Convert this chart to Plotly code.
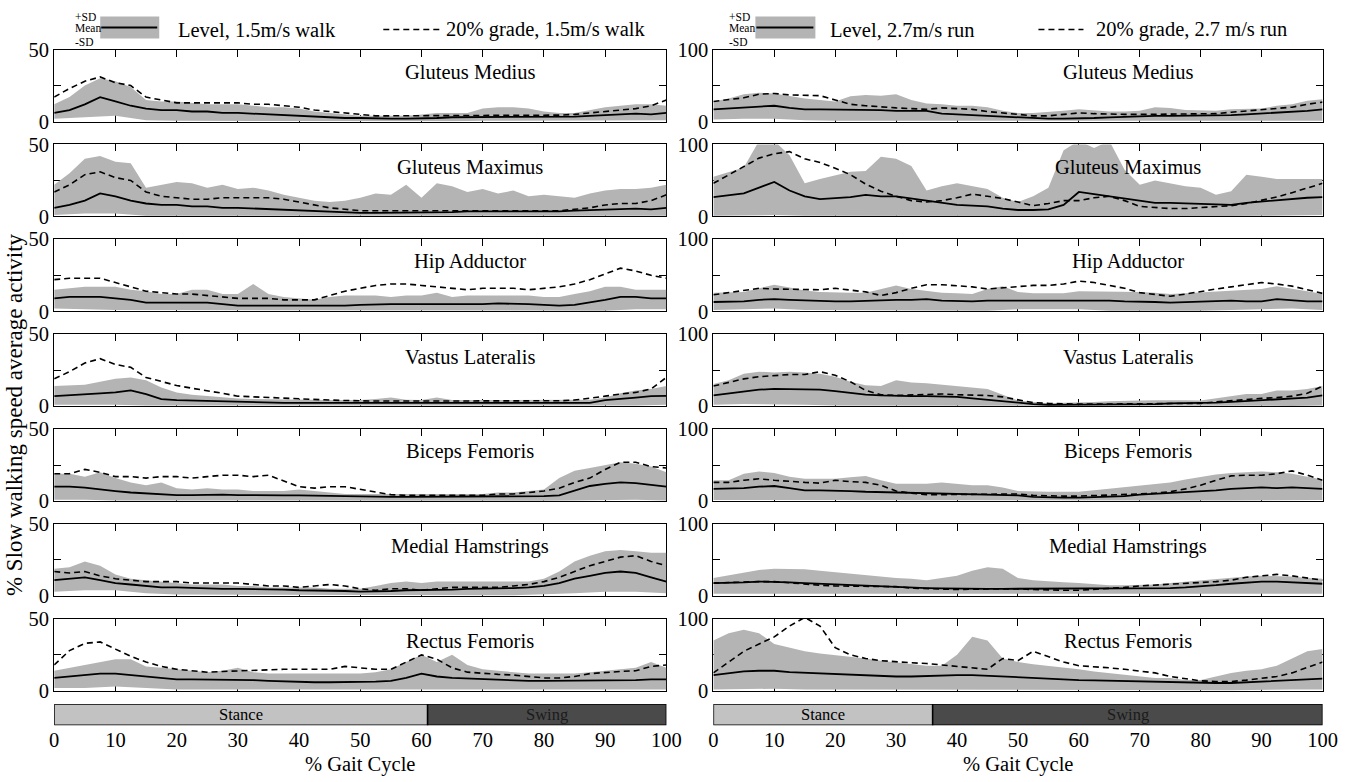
import numpy as np
import plotly.graph_objects as go

# ---------------- data ----------------
X = np.arange(0, 100.01, 2.5).tolist()      # % gait cycle (41 samples)
XL = np.arange(0, 100.01, 5).tolist()       # grid for lower SD bound (21 samples)
PCT_TICKS = [0, 10, 20, 30, 40, 50, 60, 70, 80, 90, 100]

MUSCLES = ["Gluteus Medius", "Gluteus Maximus", "Hip Adductor", "Vastus Lateralis",
           "Biceps Femoris", "Medial Hamstrings", "Rectus Femoris"]

WALK_LEGEND = ["Level, 1.5m/s walk", "20% grade, 1.5m/s walk"]
RUN_LEGEND = ["Level, 2.7m/s run", "20% grade, 2.7 m/s run"]
PHASES = ["Stance", "Swing"]
WALK_STANCE_END = 61
RUN_STANCE_END = 36
WALK_YMAX = 50
RUN_YMAX = 100

# ---- walk (left column) ----
walk_gmed_mean = [6,8,12,17,14,11,9,8,8,7, 7,6,6,5.5,5,4.5,4,3,3,2.5, 2.5,2,2,2,2,2.5,3,3,3.5,3.5, 3,3,3,3,3.5,4,4.5,5,5.5,5, 6]
walk_gmed_grade = [17,23,28,31,27,25,17,15,13,13, 13,13,13,12,12,11,10,8,7,6, 5,4,4,4,4,4,4,4.5,4.5,4.5, 4,4,4,4.5,5,6,7,8,9,11, 15]
walk_gmed_upper = [12,17,25,30,28,24,15,14,14,13, 12,12,12,11,10,10,9,7,6,5, 4,4,4,4,5,6,6,6,9,10, 10,9,7,6,6,8,10,11,12,12, 11]
walk_gmed_lower = [2,3,4,1,0.5,0.5,0.5,0.3,0.3,0.3, 0.3,0.3,0.3,0.3,0.5,0.5,0.5,0.5,1,1, 1]

walk_gmax_mean = [6,8,11,16,14,11,9,8,8,7, 7,6,6,5.5,5,5,4.5,3.5,3,3, 2.5,2.5,2.5,2.5,2.5,3,3,3.5,3.5,3.5, 3,3,3,3.5,4,4.5,5,5,5.5,5, 6]
walk_gmax_grade = [17,22,29,31,27,25,17,14,13,12, 12,13,13,13,13,12,10,8,6,5, 4,4,4,4,4,4,3.5,3.5,4,4, 4,3.5,3.5,4,5,6,8,9,9,11, 15]
walk_gmax_upper = [22,30,40,42,38,37,20,22,24,23, 20,22,19,20,18,15,13,11,10,11, 13,16,15,22,13,23,21,17,19,16, 18,14,15,14,13,16,18,19,19,20, 22]
walk_gmax_lower = [1,2,2,0.5,0.3,0.3,0.3,0.3,0.3,0.3, 0.3,0.3,0.3,0.3,0.3,0.3,0.3,0.3,0.5,0.5, 0.5]

walk_hipadd_mean = [9,10,10,10,9,8,6,6,6,6, 6,5,4,4,4,4,3.5,3.5,4,4, 4.5,5,5,5,5,4.5,4.5,5,5,5.5, 5.5,5,4.5,4,4.5,6,8,10,10,9, 9]
walk_hipadd_grade = [22,23,23,23,20,17,14,13,12,12, 11,10,9,9,9,8,8,8,11,14, 16,18,19,19,18,17,16,15,16,16, 16,15,16,17,19,22,26,30,28,25, 23]
walk_hipadd_upper = [15,16,17,17,17,15,14,12,12,15, 15,12,12,19,12,10,9,8,10,11, 11,11,10,11,11,13,10,11,11,11, 11,11,10,10,12,14,17,17,15,15, 15]
walk_hipadd_lower = [2,1.5,1,0.5,0.5,0.5,0.5,0.5,0.5,0.5, 0.5,0.5,0.5,0.5,0.5,0.5,0.5,0.5,0.5,1.5, 1.5]

walk_vl_mean = [7,7.5,8.4,9,9.6,11,8.4,5,4.3,4, 3.6,3.2,3,2.7,2.4,2.4,2.4,2.4,2.4,2.4, 2.4,2.4,2.4,2.4,2.4,2.2,2,2.2,2.4,2.4, 2.4,2.4,2.2,2.2,2.2,2.4,4.3,5,6,7, 7.2]
walk_vl_grade = [19,24,30,33,29,27,20,17,14.4,12.5, 11,9,7,6.5,6,5.5,4.8,4.5,4.3,4, 3.6,3.6,3.6,3.6,3.6,3.6,3.6,3.6,3.6,3.6, 3.6,3.6,3.6,3.8,4.3,5.5,7,8.5,9.6,12, 20]
walk_vl_upper = [14,14.5,15,17,19,20,18,13,9.6,8, 7,6,5.3,5,4.8,4.5,4.3,4.3,4.3,4.3, 4.3,5,6,4.5,4.3,6,4.3,4.3,4.3,4, 4,4,4,4,4,4.5,6,9,11,12, 14]
walk_vl_lower = [1,1,1,0.5,0.3,0.3,0.3,0.3,0.3,0.3, 0.3,0.3,0.3,0.3,0.3,0.3,0.3,0.3,0.5,0.5, 1]

walk_bf_mean = [10,10,9.4,8,7,6,5.4,4.8,4.2,4.2, 4.5,4.5,4.2,4,4,4,4,3.8,3.5,3.2, 3,3,3,3,3,3,3,3,3,3, 3,3.2,3.5,4,7,10.5,12,13,12.5,11, 10]
walk_bf_grade = [19,19,22,20,17,17,16,17,17,16, 17,18,18,17,18,14,10,9,10,10, 8,6,4.5,4,4,4.5,4,4,4,5, 5,6,7,9,13,16,22,27,27,24, 23]
walk_bf_upper = [19,19,17,20,16,13,11,13,9,8, 9,8,8,7,7,7,8,7,6,5, 5,5,5,5,5,5,5,5,5,6, 6,7,8,16,21,23,25,27,26,24, 20]
walk_bf_lower = [1,1,0.5,0.5,0.3,0.3,0.3,0.3,0.3,0.3, 0.3,0.3,0.3,0.3,0.3,0.3,0.3,0.5,1,1, 0.5]

walk_mh_mean = [11,12,13,11,9,8,7,6,6,5.5, 5,5,5,5,4.5,4.5,4,4,3.5,3.5, 3,3,3.5,4,4,4,4.5,5,5,5, 5.5,6,7,9,12,14,16,17,16,13, 10]
walk_mh_grade = [17,16,17,14,12,11,10,10,10,9, 9,9,9,8,7,7,6,7,8,7, 5,4,5,5,4,5,6,6,6,6, 7,8,10,13,17,21,24,27,28,24, 21]
walk_mh_upper = [19,20,24,21,15,12,11,10,9,8, 8,8,7,7,6,6,6,6,5,5, 5,7,9,10,9,10,10,10,10,10, 10,10,12,17,24,28,31,32,31,30, 30]
walk_mh_lower = [3,4,4,2,1,1,1,0.5,0.5,0.5, 0.5,0.5,0.5,0.5,0.5,0.5,1,2,3,3, 2]

walk_rf_mean = [9,10,11,12,12,11,10,9,8,8, 8,8,8,7.5,7,6.5,6,6,6,6, 6,6.5,7,9,12,10,9,8.5,8,7.5, 7,7,7,7,7,7,7,7,7.5,8, 8]
walk_rf_grade = [18,28,33,34,29,24,20,17,15,14, 13,13.5,14,14.5,15,15,15,15,15,17, 16,15,15,20,25,22,16,13,12,11.5, 11,10,9,9,10,12,13,13.5,14,17, 18]
walk_rf_upper = [14,16,18,20,22,22,17,16,15,14, 13,14,16,13,12,12,12,12,12,12, 12,13,15,20,25,20,25,18,15,14, 13,12,12,12,12,13,14,15,16,20, 16]
walk_rf_lower = [2,2,3,2,1,1,1,1,1,1, 1,1,1,1,1,1,1,1,1,1, 1]

# ---- run (right column) ----
run_gmed_mean = [17,18,20,21,22,19,17,17,17,16, 16,16,15,15,15,11,10,9,8,7, 5,4,4,4,4,5,6,7,8,8, 8,8,8,8,9,10,11,12,13,15, 17]
run_gmed_grade = [28,30,33,38,39,37,36,36,30,24, 22,20,19,18,17,19,18,17,14,12, 9,8,8,10,12,11,10,10,10,10, 10,10,10,11,13,15,17,18,20,24, 27]
run_gmed_upper = [28,32,38,40,39,35,32,30,28,35, 37,36,38,30,25,24,22,22,20,15, 12,12,13,15,17,15,14,14,15,20, 19,16,15,15,17,17,18,22,24,29, 31]
run_gmed_lower = [3,4,4,2,1,1,1,0.5,0.5,0.5, 0.5,0.5,0.5,0.5,0.5,0.5,0.5,0.5,0.5,1, 1]

run_gmax_mean = [27,29,32,40,48,36,28,24,25,27, 30,28,28,25,22,18,16,15,14,11, 9,9,10,16,34,31,28,25,21,19, 19,18,18,17,16,19,21,23,25,26, 27]
run_gmax_grade = [46,58,70,81,87,90,80,75,67,58, 45,35,28,22,20,22,26,31,28,25, 20,15,18,22,22,26,28,22,14,12, 11,11,12,13,15,18,22,27,33,40, 46]
run_gmax_upper = [55,62,68,105,105,85,46,52,57,62, 63,83,80,70,36,42,46,42,38,26, 20,28,40,92,105,95,105,65,44,50, 46,42,40,30,35,58,55,52,52,52, 52]
run_gmax_lower = [1,2,2,1,0.5,0.5,0.5,0.5,0.5,0.5, 0.5,0.5,0.5,0.5,0.5,0.5,0.5,0.5,1,2, 2]

run_hipadd_mean = [13,13,14,16,17,16,15,14,14,14, 15,15,16,16,17,15,14,14,15,15, 15,15,16,16,15,15,15,14,14,13, 12,13,14,15,15,14,14,17,15,14, 14]
run_hipadd_grade = [23,26,30,32,31,31,31,30,32,30, 27,22,26,32,37,37,36,34,31,33, 35,36,36,38,42,40,36,32,26,23, 21,24,28,31,34,37,40,38,35,30, 25]
run_hipadd_upper = [26,26,27,32,37,33,29,27,26,26, 26,31,36,31,28,26,25,24,31,35, 27,25,25,25,28,28,28,27,27,26, 24,25,26,28,29,30,31,35,32,28, 24]
run_hipadd_lower = [2,3,4,2,1,1,1,1,1,1, 3,3,3,1,1,1,1,1,3,4, 2]

run_vl_mean = [15,18,21,23,24,24,24,23,21,18, 16,15,14,14,14,13.5,13,11,9,6, 4,3,2,2,2,2.5,3,3,3,3, 4,4,4,5,6,7,8,9,10,12, 15]
run_vl_grade = [28,33,38,41,43,44,44,48,43,34, 22,16,15,16,17,17,16,15.5,15,13, 9,5,4,3,3,3,3,3,3,3, 3.5,4,4,6,8,10,11,12,14,18, 28]
run_vl_upper = [31,36,45,48,47,48,47,45,41,34, 29,28,36,33,32,30,28,26,24,16, 8,6,4,5,5,6,7,8,8,8.5, 9,8.5,8,11,14,17,17,22,22,24, 28]
run_vl_lower = [2,3,3,2,1,0.5,0.5,0.5,0.5,0.5, 0.5,0.5,0.5,0.5,0.5,0.5,0.5,0.5,0.5,0.5, 1]

run_bf_mean = [17,17,18,20,21,18,15,15,15,14, 13,12.5,12,11.5,11,10,9,8.5,8,8, 8,6,5,5,5,5.5,6,7,9,10, 11,12,13,15,17,18,19,18,19,18, 17]
run_bf_grade = [26,26,29,31,29,27,26,25,29,27, 26,22,14,11,9,9,9,9,9,9.5, 10,8,7,7,7,7.5,8,9,10,11, 13,17,22,29,35,36,36,38,42,36, 29]
run_bf_upper = [29,29,38,41,39,34,31,31,31,33, 35,29,24,24,24,26,24,22,22,19, 14,13,13,13,13,15,17,19,22,24, 26,30,34,37,39,40,41,40,38,34, 30]
run_bf_lower = [1.5,1.5,1.5,1,1,1,1,1,1,1, 1,1,1,1,1,1,1,1,1,1, 1.5]

run_mh_mean = [18,18,19,20,20,19,18,17,16,15, 14,13,12,11.5,11,10.5,10,10,10,10, 10,10,10,10,10,10.5,11,11,11,11, 11,12,13,15,17,19,20,20,19,18, 17]
run_mh_grade = [18,19,19,20,20,18,17,15,14,13.5, 13,13,13,11,10,9.5,9,9.5,10,10, 10,9,8,8,8,9,10,12,14,15, 16,17,18,20,22,26,28,30,28,25, 22]
run_mh_upper = [25,29,32,36,38,38,37,35,33,30, 28,26,25,24,22,25,28,35,40,38, 25,22,20,19,18,16,15,15,15,16, 18,20,22,24,25,27,28,28,27,25, 24]
run_mh_lower = [3,3,3,2,2,2,2,2,2,2, 2,2,2,2,2,2,2,2,3,3, 3]

run_rf_mean = [22,25,27,28,28,26,25,24,24,23, 22,21,20,20,21,21,22,22,21,20, 18,17,17,16,15,14.5,14,13.5,13,12.5, 12,11.5,11,11,11,12,13,14,15,16, 17]
run_rf_grade = [25,40,55,65,75,90,102,90,60,50, 45,42,40,39,38,36,35,33,30,45, 42,55,48,40,35,34,32,30,28,25, 20,17,14,13,13,15,18,20,25,32, 40]
run_rf_upper = [70,80,85,80,65,60,55,52,50,47, 45,42,40,37,35,35,50,75,70,45, 40,37,35,32,30,27,25,22,20,18, 18,15,15,20,25,28,30,35,45,55, 58]
run_rf_lower = [2,3,3,2,2,2,1,1,1,1, 1,1,1,1,1,1,1,1,1,2, 2]

WALK = [
    (walk_gmed_mean, walk_gmed_grade, walk_gmed_upper, walk_gmed_lower),
    (walk_gmax_mean, walk_gmax_grade, walk_gmax_upper, walk_gmax_lower),
    (walk_hipadd_mean, walk_hipadd_grade, walk_hipadd_upper, walk_hipadd_lower),
    (walk_vl_mean, walk_vl_grade, walk_vl_upper, walk_vl_lower),
    (walk_bf_mean, walk_bf_grade, walk_bf_upper, walk_bf_lower),
    (walk_mh_mean, walk_mh_grade, walk_mh_upper, walk_mh_lower),
    (walk_rf_mean, walk_rf_grade, walk_rf_upper, walk_rf_lower),
]
RUN = [
    (run_gmed_mean, run_gmed_grade, run_gmed_upper, run_gmed_lower),
    (run_gmax_mean, run_gmax_grade, run_gmax_upper, run_gmax_lower),
    (run_hipadd_mean, run_hipadd_grade, run_hipadd_upper, run_hipadd_lower),
    (run_vl_mean, run_vl_grade, run_vl_upper, run_vl_lower),
    (run_bf_mean, run_bf_grade, run_bf_upper, run_bf_lower),
    (run_mh_mean, run_mh_grade, run_mh_upper, run_mh_lower),
    (run_rf_mean, run_rf_grade, run_rf_upper, run_rf_lower),
]

# ---------------- style / layout ----------------
W, H = 1355, 782
FONT = "Liberation Serif"
BAND = "#b4b4b4"
STANCE_C = "#c2c2c2"
SWING_C = "#4a4a4a"
FS = 20.5   # main font size


def fx(p):
    # target pixel (reference frame) -> paper fraction, with screen calibration
    return ((p - 4.8) / 0.985) / W


def fy(p):
    q = (p - 11.5) / 0.971
    q = min(max(q, 0.0), H)
    return 1 - q / H


COLS = [
    dict(x0=54, x1=666, ymax=WALK_YMAX, data=WALK, stance=WALK_STANCE_END, legend=WALK_LEGEND,
         leg=dict(sd=73, r0=100, r1=159, t1=176, d0=383, d1=440, t2=444)),
    dict(x0=713, x1=1322, ymax=RUN_YMAX, data=RUN, stance=RUN_STANCE_END, legend=RUN_LEGEND,
         leg=dict(sd=727, r0=755, r1=815, t1=828, d0=1038, d1=1083, t2=1094)),
]
ROW_TOP0, ROW_STEP, ROW_H = 50, 94.8, 72
BAR_TOP, BAR_BOT = 704, 725

fig = go.Figure()
layout = dict(width=W, height=H, margin=dict(l=0, r=0, t=0, b=0),
              paper_bgcolor="white", plot_bgcolor="white", showlegend=False,
              hovermode=False, barmode="overlay", font=dict(family=FONT, color="black"))
annotations = []
shapes = []


def ax_names(n):
    return ("x" if n == 1 else f"x{n}"), ("y" if n == 1 else f"y{n}"), \
           ("xaxis" if n == 1 else f"xaxis{n}"), ("yaxis" if n == 1 else f"yaxis{n}")


n = 0
for ci, col in enumerate(COLS):
    dom_x = [fx(col["x0"]), fx(col["x1"])]
    ymax = col["ymax"]
    for ri, muscle in enumerate(MUSCLES):
        n += 1
        xr, yr, xk, yk = ax_names(n)
        mean, grade, upper, lower = col["data"][ri]
        top = ROW_TOP0 + ROW_STEP * ri
        bot = top + ROW_H
        fig.add_trace(go.Scatter(x=X + XL[::-1], y=upper + lower[::-1], fill="toself",
                                 fillcolor=BAND, line=dict(width=0), mode="lines",
                                 xaxis=xr, yaxis=yr, hoverinfo="skip"))
        fig.add_trace(go.Scatter(x=X, y=grade, mode="lines",
                                 line=dict(color="black", width=1.6, dash="6px,4px"),
                                 xaxis=xr, yaxis=yr))
        fig.add_trace(go.Scatter(x=X, y=mean, mode="lines",
                                 line=dict(color="black", width=1.8),
                                 xaxis=xr, yaxis=yr))
        layout[xk] = dict(domain=dom_x, range=[0, 100], anchor=yr, tickvals=PCT_TICKS[1:-1],
                          ticks="inside", ticklen=7, tickcolor="black", mirror="ticks",
                          showline=True, linecolor="black", linewidth=1,
                          showticklabels=False, showgrid=False, zeroline=False,
                          layer="below traces")
        layout[yk] = dict(domain=[fy(bot), fy(top)], range=[0, ymax], anchor=xr,
                          tickvals=[0, ymax / 2, ymax], ticktext=["0", "", str(ymax)],
                          ticks="inside", ticklen=7, tickcolor="black", mirror="ticks",
                          showline=True, linecolor="black", linewidth=1,
                          tickfont=dict(size=FS, family=FONT), showgrid=False, zeroline=False,
                          layer="below traces")
        annotations.append(dict(text=muscle, xref=f"{xr} domain", yref=f"{yr} domain",
                                x=0.68, y=0.69, xanchor="center", yanchor="middle",
                                showarrow=False, font=dict(size=FS, family=FONT)))
    # stance / swing bar
    n += 1
    xr, yr, xk, yk = ax_names(n)
    st = col["stance"]
    starts = [0, st]
    lengths = [st, 100 - st]
    colors = [STANCE_C, SWING_C]
    fig.add_trace(go.Bar(x=lengths, base=starts, y=[0, 0], orientation="h", width=1,
                         marker=dict(color=colors, line=dict(color="black", width=1.5)),
                         xaxis=xr, yaxis=yr))
    for name, s0, ln, tc in zip(PHASES, starts, lengths, ["black", "#1a1a1a"]):
        annotations.append(dict(text=name, xref=xr, yref=yr, x=s0 + ln / 2, y=0,
                                xanchor="center", yanchor="middle", showarrow=False,
                                font=dict(size=16.5, family=FONT, color=tc)))
    layout[xk] = dict(domain=dom_x, range=[0, 100], anchor=yr, tickvals=PCT_TICKS,
                      ticks="", showline=False, showgrid=False, zeroline=False,
                      tickfont=dict(size=FS, family=FONT))
    layout[yk] = dict(domain=[fy(BAR_BOT), fy(BAR_TOP)], range=[-0.5, 0.5], anchor=xr,
                      visible=False)
    annotations.append(dict(text="% Gait Cycle", xref="paper", yref="paper",
                            x=(dom_x[0] + dom_x[1]) / 2, y=fy(764), xanchor="center",
                            yanchor="middle", showarrow=False, font=dict(size=FS, family=FONT)))
    # legend (drawn)
    lg = col["leg"]
    shapes.append(dict(type="rect", xref="paper", yref="paper", x0=fx(lg["r0"]), x1=fx(lg["r1"]),
                       y0=fy(39), y1=fy(17), fillcolor=BAND, line=dict(width=0)))
    shapes.append(dict(type="line", xref="paper", yref="paper", x0=fx(lg["r0"] + 1),
                       x1=fx(lg["r1"] - 2), y0=fy(28), y1=fy(28),
                       line=dict(color="black", width=2)))
    shapes.append(dict(type="line", xref="paper", yref="paper", x0=fx(lg["d0"]), x1=fx(lg["d1"]),
                       y0=fy(30), y1=fy(30), line=dict(color="black", width=1.6, dash="6px,4px")))
    for txt, yy in [("+SD", 17.5), ("Mean", 28), ("-SD", 42)]:
        annotations.append(dict(text=txt, xref="paper", yref="paper", x=fx(lg["sd"]), y=fy(yy),
                                xanchor="left", yanchor="middle", showarrow=False,
                                font=dict(size=11.5, family=FONT)))
    annotations.append(dict(text=col["legend"][0], xref="paper", yref="paper", x=fx(lg["t1"]),
                            y=fy(30), xanchor="left", yanchor="middle", showarrow=False,
                            font=dict(size=FS, family=FONT)))
    annotations.append(dict(text=col["legend"][1], xref="paper", yref="paper", x=fx(lg["t2"]),
                            y=fy(30), xanchor="left", yanchor="middle", showarrow=False,
                            font=dict(size=FS, family=FONT)))

annotations.append(dict(text="% Slow walking speed average activity", xref="paper", yref="paper",
                        x=fx(15), y=fy(415), xanchor="center", yanchor="middle", textangle=-90,
                        showarrow=False, font=dict(size=23, family=FONT)))

layout["annotations"] = annotations
layout["shapes"] = shapes
fig.update_layout(**layout)
fig.write_html("out.html", config={"displayModeBar": False},
               post_script="document.body.style.margin='0px';document.body.style.overflow='hidden';")
